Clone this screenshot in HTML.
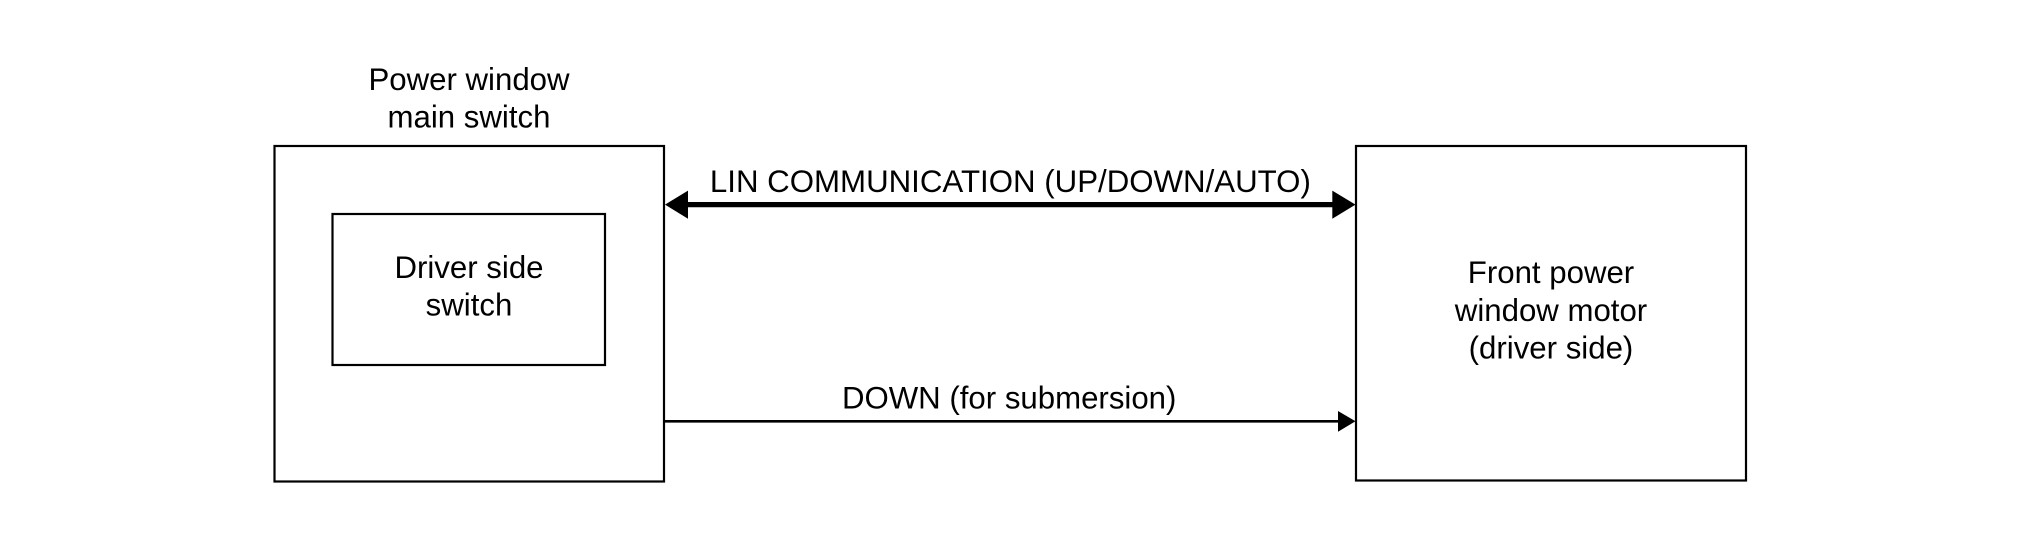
<!DOCTYPE html>
<html><head><meta charset="utf-8"><style>
html,body{margin:0;padding:0;background:#fff;width:2020px;height:544px;overflow:hidden}
svg{display:block}
text{font-family:"Liberation Sans",Arial,sans-serif;font-size:31.2px;fill:#000;text-anchor:middle}
</style></head><body>
<svg width="2020" height="544" viewBox="0 0 2020 544" xmlns="http://www.w3.org/2000/svg">
<rect width="2020" height="544" fill="#fff"/>
<g fill="none" stroke="#000" stroke-width="2.2">
<rect x="274.5" y="146" width="389.5" height="335.5"/>
<rect x="332.5" y="214" width="272.5" height="151"/>
<rect x="1356" y="146" width="390" height="334.5"/>
</g>
<line x1="680" y1="204.6" x2="1340" y2="204.6" stroke="#000" stroke-width="5.2"/>
<polygon points="665,204.6 688,190.6 688,218.7" fill="#000"/>
<polygon points="1355.5,204.6 1332.3,190.6 1332.3,218.7" fill="#000"/>
<line x1="664" y1="421.3" x2="1345" y2="421.3" stroke="#000" stroke-width="2.6"/>
<polygon points="1355.5,421.3 1338,411 1338,431.7" fill="#000"/>
<text x="469" y="90">Power window</text>
<text x="469" y="127.7">main switch</text>
<text x="469" y="278">Driver side</text>
<text x="469" y="315.7">switch</text>
<text x="1010.4" y="191.8" textLength="601" lengthAdjust="spacingAndGlyphs">LIN COMMUNICATION (UP/DOWN/AUTO)</text>
<text x="1009.2" y="408.4">DOWN (for submersion)</text>
<text x="1551" y="283">Front power</text>
<text x="1551" y="320.8">window motor</text>
<text x="1551" y="358.4">(driver side)</text>
</svg>
</body></html>
